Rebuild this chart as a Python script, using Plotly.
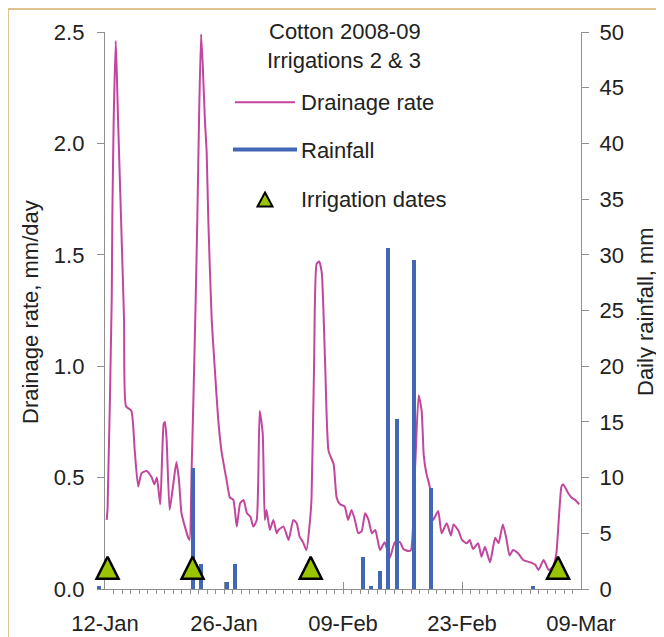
import plotly.graph_objects as go
from datetime import datetime, timedelta

# ---------------- data ----------------
# Drainage rate: day offset from 12-Jan-2009, value in mm/day
drain_day = [0.2, 0.3, 0.79, 0.86, 1.02, 1.26, 1.4, 1.54, 1.89, 2.24, 2.47, 3.1, 3.5, 3.9, 4.3, 4.9,
             5.5, 5.8, 6.1, 6.5, 6.9, 7.06, 7.25, 7.6, 8.0, 8.4, 8.7, 9.0, 9.4, 9.8, 9.95, 10.2,
             10.4, 10.67, 10.86, 11.06, 11.3, 11.5, 11.76, 11.96, 12.15, 12.55, 12.9, 13.3, 13.7,
             14.3, 14.7, 15.1, 15.5, 15.9, 16.3, 16.7, 17.1, 17.45, 17.85, 18.2, 18.55, 18.8, 19.0,
             19.4, 19.8, 20.2, 20.4, 21.0, 21.6, 22.15, 22.55, 22.9, 23.3, 23.7, 24.1, 24.3, 24.6,
             24.9, 25.2, 25.5, 25.9, 26.3, 26.9, 27.25, 27.65, 28.2, 28.6, 29.0, 29.4, 29.8, 30.2,
             30.6, 31.0, 31.4, 31.8, 32.35, 32.9, 33.5, 34.1, 34.7, 35.1, 35.7, 36.0, 36.5, 36.9,
             37.25, 37.5, 37.8, 38.2, 38.6, 39.2, 39.6, 40.2, 40.7, 41.0, 41.6, 42.0, 42.55, 42.9,
             43.3, 43.9, 44.3, 44.7, 45.3, 45.9, 46.3, 46.8, 47.2, 47.6, 48.0, 48.6, 49.2, 50.0,
             50.6, 51.0, 51.6, 52.2, 52.7, 53.1, 53.7, 53.9, 54.5, 54.9, 55.3, 55.8]
drain_rate = [0.31, 0.36, 1.3, 1.66, 2.1, 2.46, 2.3, 2.1, 1.66, 1.21, 0.82, 0.80, 0.62, 0.46, 0.52, 0.53,
              0.50, 0.47, 0.50, 0.38, 0.74, 0.75, 0.67, 0.355, 0.46, 0.57, 0.49, 0.34, 0.28, 0.23, 0.22, 0.55,
              0.85, 1.3, 1.66, 2.1, 2.49, 2.35, 2.1, 1.96, 1.66, 1.21, 1.0, 0.77, 0.62,
              0.49, 0.41, 0.40, 0.28, 0.385, 0.40, 0.34, 0.325, 0.28, 0.31, 0.80, 0.70, 0.31, 0.355,
              0.265, 0.31, 0.25, 0.265, 0.28, 0.22, 0.31, 0.295, 0.235, 0.21, 0.175, 0.30, 0.41, 1.01,
              1.46, 1.47, 1.42, 1.01, 0.62, 0.56, 0.41, 0.38, 0.37, 0.31, 0.355, 0.31, 0.25, 0.26,
              0.34, 0.31, 0.25, 0.265, 0.175, 0.21, 0.14, 0.21, 0.21, 0.18, 0.17, 0.175, 0.56, 0.87,
              0.80, 0.60, 0.52, 0.46, 0.31, 0.35, 0.25, 0.295, 0.24, 0.29, 0.26, 0.22, 0.205, 0.22,
              0.18, 0.205, 0.145, 0.19, 0.12, 0.23, 0.205, 0.29, 0.23, 0.15, 0.175, 0.16, 0.13, 0.12,
              0.11, 0.085, 0.13, 0.085, 0.10, 0.16, 0.46, 0.47, 0.43, 0.41, 0.40, 0.38]

# Daily rainfall (mm)
rain_dates = ["2009-01-11", "2009-01-22", "2009-01-23", "2009-01-26", "2009-01-27",
              "2009-02-11", "2009-02-12", "2009-02-13", "2009-02-14", "2009-02-15",
              "2009-02-17", "2009-02-19", "2009-03-03"]
rain_mm = [0.3, 10.9, 2.2, 0.6, 2.2, 2.9, 0.27, 1.65, 30.6, 15.3, 29.5, 9.1, 0.27]

# Irrigation dates (day offset from 12-Jan) and marker level (top of marker, mm/day axis)
irrig_day = [0.3, 10.3, 24.2, 53.3]
irrig_level = [0.145, 0.145, 0.145, 0.145]

# axes
x_start = "2009-01-12"
x_end = "2009-03-09"
drain_ticks = [0.0, 0.5, 1.0, 1.5, 2.0, 2.5]
rain_ticks = [0, 5, 10, 15, 20, 25, 30, 35, 40, 45, 50]

# ---------------- styling / geometry (reference pixel coordinates) ----------------
VW, VH = 664, 637          # window
OFF = 8                    # page offset of the figure (body margin)
FW, FH = VW - OFF, VH - OFF
L, R, T, B = 85, 581, 32, 589          # plot-paper area in window pixels
AX_LEFT = 105                          # window pixel of the visible x-axis start
DAY = 86400000
BASE = datetime.fromisoformat(x_start)
END = datetime.fromisoformat(x_end)
px_per_day = (R - AX_LEFT) / (END - BASE).days
extra_days = (AX_LEFT - L) / px_per_day

PINK = "#C2469E"
BLUE = "#4467B5"
GREEN = "#9BC400"
GREY = "#8f8f8f"
TEXT = "#222222"
TAN = "#E0C28C"
FONT = "Liberation Sans, Arial, sans-serif"
FS = 22


def px(x):
    return (x - L) / (R - L)


def py(y):
    return (B - y) / (B - T)


def d(day):
    return BASE + timedelta(days=day)


fig = go.Figure()

fig.add_trace(go.Scatter(
    x=[d(v) for v in drain_day], y=drain_rate, mode="lines",
    line=dict(color=PINK, width=2, shape="spline", smoothing=0.5), xaxis="x", yaxis="y",
    name="Drainage rate", showlegend=False))

fig.add_trace(go.Bar(
    x=rain_dates, y=rain_mm, marker=dict(color=BLUE, line=dict(width=0)),
    width=0.47 * DAY, offset=0.07 * DAY, xaxis="x2", yaxis="y2",
    name="Rainfall", showlegend=False))

fig.add_trace(go.Scatter(
    x=[d(v) for v in irrig_day], y=irrig_level, mode="markers",
    marker=dict(symbol="arrow-up", size=22, color=GREEN,
                line=dict(color="black", width=2.5)),
    xaxis="x2", yaxis="y3", name="Irrigation dates", showlegend=False, cliponaxis=False))

axis_common = dict(showgrid=False, zeroline=False, showline=True, linecolor=GREY, linewidth=1.3,
                   tickcolor=GREY, tickwidth=1.3, automargin=False,
                   tickfont=dict(family=FONT, size=FS, color=TEXT))

fig.update_layout(
    width=FW, height=FH, autosize=False,
    margin=dict(l=L - OFF, r=VW - R, t=T - OFF, b=VH - B, pad=0, autoexpand=False),
    paper_bgcolor=TAN, plot_bgcolor="rgba(0,0,0,0)",
    showlegend=False, bargap=0,
    font=dict(family=FONT, size=FS, color=TEXT),
    xaxis=dict(domain=[px(AX_LEFT), 1], range=[BASE, END], type="date", anchor="y",
               tickmode="linear", tick0=x_start, dtick=14 * DAY, tickformat="%d-%b",
               ticks="inside", ticklen=7, ticklabelstandoff=14,
               minor=dict(dtick=DAY, tick0=x_start, ticks="outside", ticklen=4,
                          tickcolor=GREY, tickwidth=1),
               **axis_common),
    xaxis2=dict(domain=[0, 1], range=[BASE - timedelta(days=extra_days), END], type="date",
                anchor="y2", visible=False),
    yaxis=dict(domain=[0, 1], range=[0, 2.5], anchor="x", side="left",
               tickmode="array", tickvals=drain_ticks, tickformat=".1f",
               ticks="outside", ticklen=7, ticklabelstandoff=8, **axis_common),
    yaxis2=dict(overlaying="y", anchor="x", side="right", range=[0, 50],
                tickmode="array", tickvals=rain_ticks,
                ticks="outside", ticklen=7, ticklabelstandoff=6, **axis_common),
    yaxis3=dict(overlaying="y", range=[0, 2.5], visible=False),
)

# white panel on tan frame
fig.add_shape(type="rect", xref="paper", yref="paper", layer="below",
              x0=px(9), x1=px(VW + 20), y0=py(VH + 20), y1=py(10),
              fillcolor="white", line=dict(width=0))

# legend (drawn manually)
fig.add_shape(type="line", xref="paper", yref="paper", x0=px(235), x1=px(295),
              y0=py(102.3), y1=py(102.3), line=dict(color=PINK, width=2))
fig.add_shape(type="line", xref="paper", yref="paper", x0=px(233), x1=px(297),
              y0=py(149.5), y1=py(149.5), line=dict(color=BLUE, width=4))
tri = "M {:.5f},{:.5f} L {:.5f},{:.5f} L {:.5f},{:.5f} Z".format(
    px(265), py(192.5), px(272.5), py(206.5), px(257.5), py(206.5))
fig.add_shape(type="path", xref="paper", yref="paper", path=tri,
              fillcolor=GREEN, line=dict(color="black", width=2))

texts = [("Cotton 2008-09", 345, 31.3, "center"),
         ("Irrigations 2 & 3", 344, 60.5, "center"),
         ("Drainage rate", 299, 102.5, "left"),
         ("Rainfall", 299, 150.5, "left"),
         ("Irrigation dates", 299, 199.5, "left")]
for txt, x, y, anc in texts:
    fig.add_annotation(text=txt, xref="paper", yref="paper", x=px(x), y=py(y),
                       xanchor=anc, yanchor="middle", showarrow=False,
                       font=dict(family=FONT, size=FS, color=TEXT))

# axis titles
fig.add_annotation(text="Drainage rate, mm/day", xref="paper", yref="paper",
                   x=px(30), y=py(312), textangle=-90, xanchor="center", yanchor="middle",
                   showarrow=False, font=dict(family=FONT, size=FS, color=TEXT))
fig.add_annotation(text="Daily rainfall, mm", xref="paper", yref="paper",
                   x=px(645), y=py(312), textangle=-90, xanchor="center", yanchor="middle",
                   showarrow=False, font=dict(family=FONT, size=FS, color=TEXT))

fig.write_html("out.html")
